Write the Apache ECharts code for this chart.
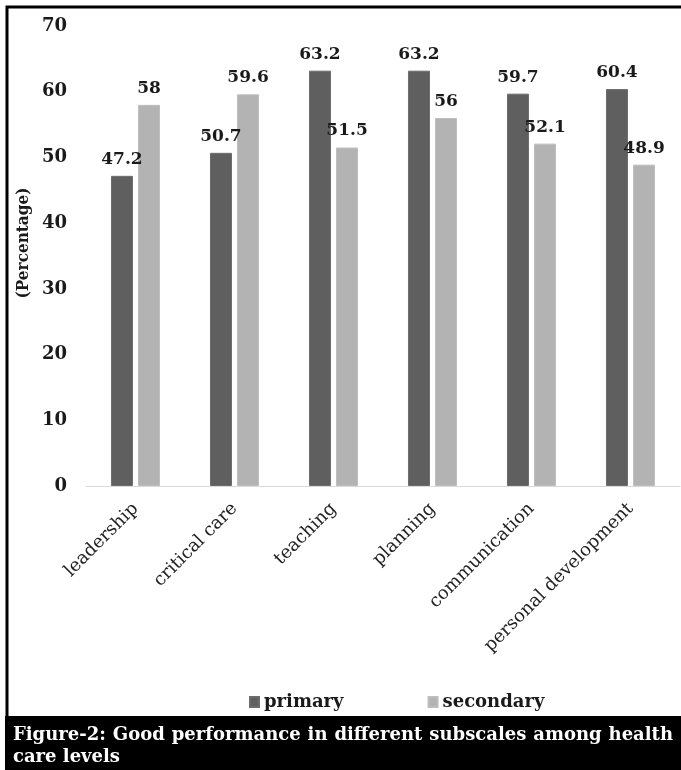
<!DOCTYPE html>
<html>
<head>
<meta charset="utf-8">
<script src="https://cdn.jsdelivr.net/npm/echarts@6/dist/echarts.min.js"></script>
<style>
  html, body { margin: 0; padding: 0; background: #fff; }
  #chart { width: 681px; height: 770px; }
</style>
</head>
<body>
<div id="chart"></div>
<script>
// Subscale categories and the share (%) rated as good performance per care level
const categories = ['leadership', 'critical care', 'teaching', 'planning', 'communication', 'personal development'];
const primaryValues = [47.2, 50.7, 63.2, 63.2, 59.7, 60.4];
const secondaryValues = [58, 59.6, 51.5, 56, 52.1, 48.9];
const seriesNames = ['primary', 'secondary'];
const yTicks = { min: 0, max: 70, step: 10 };
const yTitle = '(Percentage)';
const captionLine1 = 'Figure-2: Good performance in different subscales among health';
const captionLine2 = 'care levels';

const SERIF = '"DejaVu Serif", serif';
const SERIF_COND = '"DejaVu Serif Condensed", "DejaVu Serif", serif';
const CAPTION_FONT = 'bold 18px ' + SERIF;

const chart = echarts.init(document.getElementById('chart'), null, { renderer: 'canvas' });

// Caption: first line justified edge to edge, second line left-aligned
function captionElements() {
  const ctx = document.createElement('canvas').getContext('2d');
  ctx.font = CAPTION_FONT;
  const words = captionLine1.split(' ');
  const left = 13, right = 673;
  const widths = words.map(w => ctx.measureText(w).width);
  const total = widths.reduce((a, b) => a + b, 0);
  const gap = (right - left - total) / (words.length - 1);
  const els = [];
  let x = left;
  words.forEach((w, i) => {
    els.push({ type: 'text', x: x, y: 735, style: { text: w, font: CAPTION_FONT, fill: '#fff', verticalAlign: 'middle' } });
    x += widths[i] + gap;
  });
  els.push({ type: 'text', x: left, y: 757, style: { text: captionLine2, font: CAPTION_FONT, fill: '#fff', verticalAlign: 'middle' } });
  return els;
}

const labelStyle = {
  show: true,
  position: 'top',
  distance: 8,
  fontFamily: SERIF,
  fontWeight: 'bold',
  fontSize: 17,
  color: '#1a1a1a'
};

chart.setOption({
  animation: false,
  backgroundColor: '#fff',
  grid: { left: 86, right: 1, top: 26, bottom: 284, containLabel: false },
  legend: {
    data: seriesNames,
    left: 244,
    top: 688,
    itemWidth: 9,
    itemHeight: 10,
    itemGap: 84,
    icon: 'rect',
    textStyle: { fontFamily: SERIF, fontWeight: 'bold', fontSize: 18, color: '#1a1a1a', padding: [0, 0, 0, 0] }
  },
  xAxis: {
    type: 'category',
    data: categories,
    axisLine: { lineStyle: { color: '#d9d9d9', width: 1 } },
    axisTick: { show: false },
    axisLabel: { rotate: 45, margin: 20, fontFamily: SERIF, fontSize: 18, color: '#222', interval: 0 }
  },
  yAxis: {
    type: 'value',
    min: yTicks.min,
    max: yTicks.max,
    interval: yTicks.step,
    axisLine: { show: false },
    axisTick: { show: false },
    splitLine: { show: false },
    axisLabel: { margin: 19, fontFamily: SERIF, fontWeight: 'bold', fontSize: 18, color: '#1a1a1a' }
  },
  series: [
    {
      name: seriesNames[0],
      type: 'bar',
      data: primaryValues,
      barWidth: 22,
      barGap: '23%',
      itemStyle: { color: '#5f5f5f', borderColor: '#6c6c6c', borderWidth: 1 },
      label: labelStyle
    },
    {
      name: seriesNames[1],
      type: 'bar',
      data: secondaryValues,
      barWidth: 22,
      itemStyle: { color: '#b3b3b3', borderColor: '#bdbdbd', borderWidth: 1 },
      label: labelStyle
    }
  ],
  graphic: [
    // frame around the plot
    { type: 'polyline', shape: { points: [[7, 720], [7, 7], [700, 7]] }, style: { stroke: '#000', lineWidth: 3, fill: null } },
    // vertical axis title
    { type: 'text', x: 24, y: 243, rotation: Math.PI / 2,
      style: { text: yTitle, font: 'bold 17px ' + SERIF_COND, fill: '#1a1a1a', align: 'center', verticalAlign: 'middle' } },
    // caption band
    { type: 'rect', shape: { x: 5, y: 716, width: 680, height: 60 }, style: { fill: '#000' } }
  ].concat(captionElements())
});
</script>
</body>
</html>
